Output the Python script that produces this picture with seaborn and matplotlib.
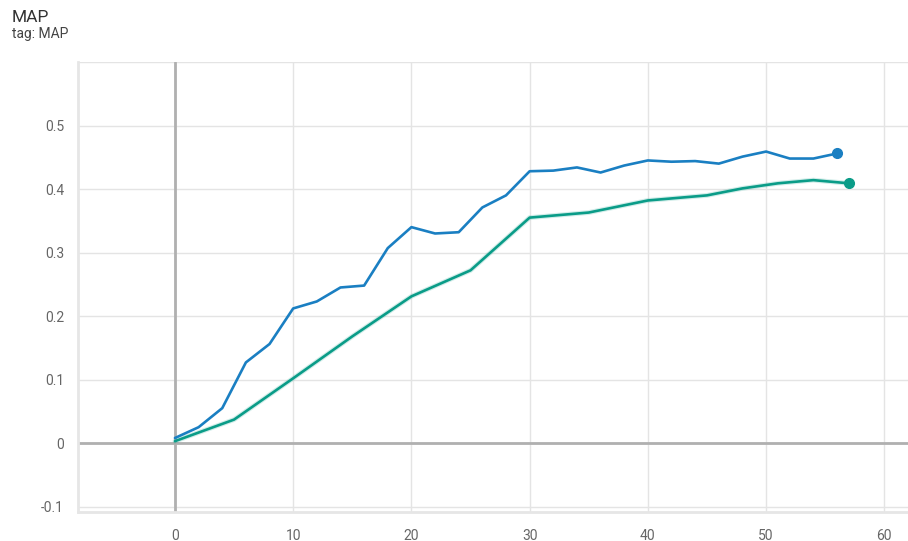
import matplotlib
matplotlib.use("Agg")
import matplotlib.pyplot as plt
import seaborn as sns
import pandas as pd

# ---- data ----
blue_steps = [0, 2, 4, 6, 8, 10, 12, 14, 16, 18, 20, 22, 24, 26, 28, 30, 32, 34, 36, 38,
              40, 42, 44, 46, 48, 50, 52, 54, 56]
blue_map = [0.008, 0.025, 0.055, 0.127, 0.156, 0.212, 0.223, 0.245, 0.248, 0.307,
            0.340, 0.330, 0.332, 0.371, 0.390, 0.428, 0.429, 0.434, 0.426, 0.437,
            0.445, 0.443, 0.444, 0.440, 0.451, 0.459, 0.448, 0.448, 0.456]

green_steps = [0, 5, 10, 15, 20, 25, 30, 35, 40, 45, 48, 51, 54, 57]
green_map = [0.003, 0.037, 0.102, 0.168, 0.231, 0.272, 0.355, 0.363, 0.382, 0.390,
             0.401, 0.409, 0.414, 0.409]

x_ticks = [0, 10, 20, 30, 40, 50, 60]
y_ticks = [-0.1, 0, 0.1, 0.2, 0.3, 0.4, 0.5]
y_tick_labels = ["-0.1", "0", "0.1", "0.2", "0.3", "0.4", "0.5"]

title = "MAP"
subtitle = "tag: MAP"

blue_color = "#1a7fc2"
green_color = "#0a9c88"

sns.set_style("white")
plt.rcParams["font.family"] = ["Roboto", "DejaVu Sans"]

fig = plt.figure(figsize=(9.08, 5.41), dpi=100)
ax = fig.add_axes([78 / 908, 1 - 512 / 541, 1 - 78 / 908, (512 - 62) / 541])

df_b = pd.DataFrame({"step": blue_steps, "value": blue_map})
df_g = pd.DataFrame({"step": green_steps, "value": green_map})

# grid
for xt in x_ticks:
    ax.axvline(xt, color="#e4e4e4", lw=1, zorder=0)
for yt in y_ticks + [0.6]:
    ax.axhline(yt, color="#e4e4e4", lw=1, zorder=0)
ax.axvline(0, color="#b0b0b0", lw=2, zorder=1)
ax.axhline(0, color="#b0b0b0", lw=2, zorder=1)

# raw (faint) and smoothed lines
sns.lineplot(data=df_g, x="step", y="value", ax=ax, color=green_color, alpha=0.18,
             lw=3.5, zorder=2)
sns.lineplot(data=df_g, x="step", y="value", ax=ax, color=green_color, lw=1.9, zorder=3)
sns.lineplot(data=df_b, x="step", y="value", ax=ax, color=blue_color, lw=1.9, zorder=3)

ax.plot(blue_steps[-1], blue_map[-1], "o", color=blue_color, ms=7, zorder=4)
ax.plot(green_steps[-1], green_map[-1], "o", color=green_color, ms=7, zorder=4)

ax.set_xlim(-8.2, 62.0)
ax.set_ylim(-0.1085, 0.6)
ax.set_xticks(x_ticks)
ax.set_yticks(y_ticks)
ax.set_yticklabels(y_tick_labels)
ax.set_xlabel("")
ax.set_ylabel("")
ax.tick_params(axis="y", length=7, width=1, color="#e0e0e0", labelcolor="#666666",
               labelsize=10, pad=3)
ax.tick_params(axis="x", length=0, labelcolor="#666666", labelsize=10, pad=12)

for s in ["top", "right"]:
    ax.spines[s].set_visible(False)
for s in ["left", "bottom"]:
    ax.spines[s].set_color("#e6e6e6")
    ax.spines[s].set_linewidth(2)

fig.text(12 / 908, 1 - 17 / 541, title, fontsize=12.5, color="#333333", va="center")
fig.text(12 / 908, 1 - 34 / 541, subtitle, fontsize=10, color="#444444", va="center")

fig.savefig("out.png", dpi=100)
